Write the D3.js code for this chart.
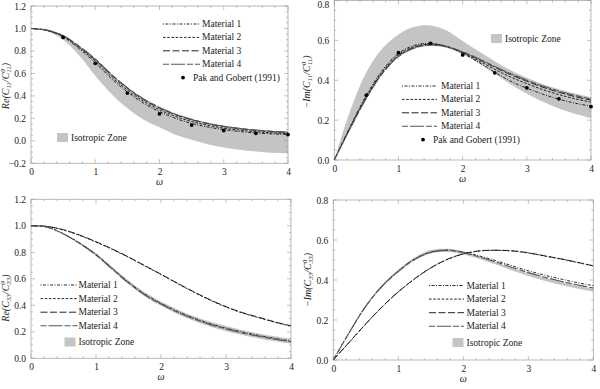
<!DOCTYPE html>
<html><head><meta charset="utf-8">
<script src="https://cdn.jsdelivr.net/npm/d3@7"></script>
<style>body{margin:0;background:#fff}svg{display:block}text{font-family:"Liberation Serif","DejaVu Serif",serif;fill:#222}</style>
</head><body><svg id="c" width="600" height="389"></svg>
<script>
// ---- data ----
const omega = [0,0.25,0.5,0.75,1,1.25,1.5,1.75,2,2.25,2.5,2.75,3,3.25,3.5,3.75,4];
const pakOmega = [0.5,1,1.5,2,2.5,3,3.5,4];
const xTicks = [0,1,2,3,4];
const materialNames = ["Material 1","Material 2","Material 3","Material 4"];

// Panel 1: Re(C11/C11^0)
const p1_m1 = [1,0.982,0.925,0.82,0.695,0.555,0.435,0.335,0.26,0.2,0.155,0.123,0.1,0.083,0.07,0.062,0.056];
const p1_m2 = [1,0.983,0.93,0.83,0.71,0.572,0.452,0.352,0.277,0.217,0.172,0.138,0.113,0.095,0.081,0.071,0.064];
const p1_m3 = [1,0.985,0.935,0.838,0.722,0.587,0.467,0.367,0.292,0.232,0.187,0.152,0.127,0.108,0.093,0.082,0.074];
const p1_m4 = [1,0.985,0.937,0.842,0.728,0.593,0.473,0.373,0.297,0.237,0.191,0.156,0.13,0.111,0.096,0.085,0.077];
const p1_zoneHi = [1,0.986,0.938,0.845,0.732,0.598,0.478,0.378,0.302,0.242,0.196,0.16,0.134,0.115,0.1,0.089,0.08];
const p1_zoneLo = [1,0.975,0.9,0.76,0.58,0.42,0.29,0.19,0.12,0.055,0.01,-0.03,-0.06,-0.08,-0.095,-0.105,-0.11];
const p1_pak = [0.92,0.69,0.425,0.24,0.14,0.092,0.067,0.056];
const p1_yTicks = [-0.2,0,0.2,0.4,0.6,0.8,1.0,1.2];

// Panel 2: -Im(C11/C11^0)
const p2_m1 = [0,0.17,0.325,0.45,0.535,0.575,0.585,0.57,0.535,0.49,0.44,0.395,0.36,0.33,0.305,0.285,0.27];
const p2_m2 = [0,0.165,0.318,0.443,0.528,0.569,0.581,0.569,0.538,0.498,0.455,0.416,0.383,0.353,0.328,0.307,0.29];
const p2_m3 = [0,0.162,0.313,0.437,0.522,0.565,0.579,0.569,0.541,0.505,0.465,0.428,0.395,0.365,0.34,0.318,0.3];
const p2_m4 = [0,0.16,0.31,0.434,0.519,0.562,0.577,0.568,0.542,0.508,0.469,0.433,0.4,0.371,0.346,0.324,0.305];
const p2_zoneHi = [0,0.25,0.44,0.56,0.63,0.668,0.675,0.65,0.597,0.545,0.495,0.45,0.412,0.38,0.355,0.334,0.316];
const p2_zoneLo = [0,0.155,0.305,0.43,0.515,0.558,0.572,0.562,0.53,0.485,0.432,0.38,0.332,0.292,0.258,0.232,0.21];
const p2_pak = [0.325,0.538,0.585,0.527,0.437,0.362,0.307,0.268];
const p2_yTicks = [0,0.2,0.4,0.6,0.8];

// Panel 3: Re(C33/C33^0)
const p3_m1 = [1,0.99,0.94,0.87,0.785,0.68,0.575,0.485,0.415,0.355,0.305,0.262,0.228,0.198,0.173,0.15,0.13];
const p3_m2 = [1,0.995,0.968,0.927,0.877,0.822,0.762,0.697,0.632,0.565,0.5,0.44,0.387,0.342,0.307,0.272,0.242];
const p3_m3 = [1,0.995,0.97,0.93,0.88,0.825,0.765,0.70,0.635,0.568,0.503,0.443,0.39,0.345,0.31,0.275,0.245];
const p3_m4 = [1,0.99,0.938,0.866,0.78,0.674,0.569,0.479,0.409,0.349,0.299,0.256,0.222,0.192,0.167,0.145,0.125];
const p3_zoneHi = [1,0.99,0.942,0.875,0.792,0.69,0.587,0.498,0.428,0.369,0.319,0.277,0.243,0.213,0.188,0.166,0.147];
const p3_zoneLo = [1,0.988,0.935,0.862,0.772,0.664,0.558,0.467,0.396,0.335,0.284,0.24,0.205,0.175,0.15,0.128,0.11];
const p3_yTicks = [0,0.2,0.4,0.6,0.8,1.0,1.2];

// Panel 4: -Im(C33/C33^0)
const p4_m1 = [0,0.14,0.27,0.37,0.445,0.505,0.54,0.55,0.54,0.52,0.497,0.471,0.446,0.424,0.405,0.387,0.372];
const p4_m2 = [0,0.09,0.18,0.265,0.34,0.405,0.46,0.502,0.53,0.545,0.548,0.545,0.535,0.52,0.505,0.488,0.47];
const p4_m3 = [0,0.091,0.181,0.266,0.341,0.406,0.461,0.503,0.531,0.546,0.549,0.546,0.536,0.521,0.506,0.489,0.471];
const p4_m4 = [0,0.14,0.268,0.368,0.443,0.503,0.538,0.548,0.537,0.515,0.49,0.463,0.437,0.414,0.394,0.376,0.36];
const p4_zoneHi = [0,0.143,0.275,0.377,0.453,0.513,0.55,0.556,0.542,0.516,0.488,0.46,0.434,0.411,0.391,0.373,0.358];
const p4_zoneLo = [0,0.138,0.265,0.363,0.437,0.497,0.532,0.54,0.528,0.505,0.477,0.448,0.42,0.396,0.375,0.357,0.342];
const p4_yTicks = [0,0.2,0.4,0.6,0.8];

// ---- styles ----
const matStyle = [
  {stroke:"#111", dash:"1,1.5,3,1.5", w:0.9},
  {stroke:"#111", dash:"2.6,1.6", w:0.9},
  {stroke:"#222", dash:"7,2.5", w:1.0},
  {stroke:"#555", dash:"6,2,14,2", w:1.1}
];
const zoneFill = "#c4c4c4";

const svg = d3.select("#c");

function yLabel(g, x, y, sub, neg) {
  const t = g.append("text").attr("transform",`translate(${x},${y}) rotate(-90)`)
    .attr("text-anchor","middle").attr("font-size",10).attr("font-style","italic");
  t.append("tspan").text((neg?"\u2212":"") + (neg?"Im":"Re") + "(C");
  t.append("tspan").attr("font-size",7).attr("dy",2).text(sub);
  t.append("tspan").attr("dy",-2).text("/C");
  t.append("tspan").attr("font-size",7).attr("dy",-4).text("0");
  t.append("tspan").attr("font-size",7).attr("dx",-3.5).attr("dy",6).text(sub);
  t.append("tspan").attr("dy",-2).text(")");
}

function panel(cfg) {
  const x = d3.scaleLinear().domain([0,4]).range([cfg.x0,cfg.x1]);
  const y = d3.scaleLinear().domain(cfg.yDom).range([cfg.yB,cfg.yT]);
  const g = svg.append("g");
  // zone
  const area = d3.area().x((d,i)=>x(omega[i])).y0((d,i)=>y(cfg.zoneLo[i])).y1((d,i)=>y(cfg.zoneHi[i])).curve(d3.curveCatmullRom);
  g.append("path").datum(omega).attr("d",area).attr("fill",zoneFill);
  // frame
  g.append("rect").attr("x",cfg.x0).attr("y",cfg.yT).attr("width",cfg.x1-cfg.x0).attr("height",cfg.yB-cfg.yT)
    .attr("fill","none").attr("stroke","#a8a8a8").attr("stroke-width",0.8);
  // ticks
  const tk = g.append("g").attr("stroke","#999").attr("stroke-width",0.6);
  d3.range(0,4.0001,0.2).forEach(v=>{
    const major = Math.abs(v-Math.round(v))<1e-6;
    const L = major?4:2;
    tk.append("line").attr("x1",x(v)).attr("x2",x(v)).attr("y1",cfg.yB).attr("y2",cfg.yB-L);
    tk.append("line").attr("x1",x(v)).attr("x2",x(v)).attr("y1",cfg.yT).attr("y2",cfg.yT+L);
  });
  d3.range(cfg.yDom[0],cfg.yDom[1]+1e-6,0.05).forEach(v=>{
    const major = Math.abs(v/0.2-Math.round(v/0.2))<1e-6;
    const L = major?4:2;
    tk.append("line").attr("x1",cfg.x0).attr("x2",cfg.x0+L).attr("y1",y(v)).attr("y2",y(v));
    tk.append("line").attr("x1",cfg.x1).attr("x2",cfg.x1-L).attr("y1",y(v)).attr("y2",y(v));
  });
  // tick labels via axes
  const ax = g.append("g").attr("transform",`translate(0,${cfg.yB})`)
    .call(d3.axisBottom(x).tickValues(xTicks).tickFormat(d3.format("d")).tickSize(0).tickPadding(5));
  const ay = g.append("g").attr("transform",`translate(${cfg.x0},0)`)
    .call(d3.axisLeft(y).tickValues(cfg.yTicks).tickFormat(d=>d<0?"\u2212"+Math.abs(d).toFixed(1):d.toFixed(1)).tickSize(0).tickPadding(5));
  [ax,ay].forEach(a=>{a.select(".domain").remove();a.selectAll("text").attr("font-size",9.5).attr("fill","#222");});
  // keep the top tick label inside the picture
  ay.selectAll(".tick").each(function(d){
    const yy = y(d);
    if (yy < 5) d3.select(this).attr("transform",`translate(0,5)`);
  });
  // curves
  const line = d3.line().x((d,i)=>x(omega[i])).y(d=>y(d)).curve(d3.curveCatmullRom);
  cfg.mats.forEach((m,k)=>{
    g.append("path").datum(m).attr("d",line).attr("fill","none")
      .attr("stroke",matStyle[k].stroke).attr("stroke-width",matStyle[k].w).attr("stroke-dasharray",matStyle[k].dash);
  });
  if (cfg.pak) {
    g.selectAll("circle.p").data(cfg.pak).enter().append("circle")
      .attr("cx",(d,i)=>x(pakOmega[i])).attr("cy",d=>y(d)).attr("r",1.9).attr("fill","#000");
  }
  // axis titles
  g.append("text").attr("x",(cfg.x0+cfg.x1)/2).attr("y",cfg.yB+22).attr("text-anchor","middle")
    .attr("font-size",10).attr("font-style","italic").text("\u03c9");
  yLabel(g, cfg.ylx, cfg.ylc, cfg.sub, cfg.neg);
  // legend
  const L = cfg.leg;
  materialNames.forEach((nm,k)=>{
    const yy = L.y + k*L.dy;
    g.append("line").attr("x1",L.lx0).attr("x2",L.lx1).attr("y1",yy).attr("y2",yy)
      .attr("stroke",matStyle[k].stroke).attr("stroke-width",matStyle[k].w).attr("stroke-dasharray",matStyle[k].dash);
    g.append("text").attr("x",L.tx).attr("y",yy+3).attr("font-size",9.5).text(nm);
  });
  if (cfg.pak) {
    const yy = L.y + 4*L.dy;
    g.append("circle").attr("cx",L.px).attr("cy",yy).attr("r",1.9).attr("fill","#000");
    g.append("text").attr("x",L.ptx).attr("y",yy+3).attr("font-size",9.5).text("Pak and Gobert (1991)");
  }
  const Z = cfg.zl;
  g.append("rect").attr("x",Z.x).attr("y",Z.y-4.5).attr("width",11).attr("height",9).attr("fill",zoneFill);
  g.append("text").attr("x",Z.x+14).attr("y",Z.y+3).attr("font-size",9.5).text("Isotropic Zone");
}

panel({x0:31,x1:288,yT:6,yB:163.3,yDom:[-0.2,1.2],yTicks:p1_yTicks,
  mats:[p1_m1,p1_m2,p1_m3,p1_m4],zoneHi:p1_zoneHi,zoneLo:p1_zoneLo,pak:p1_pak,
  ylx:9,ylc:86,sub:"11",neg:false,
  leg:{y:24,dy:13.4,lx0:163,lx1:200,tx:202,px:183,ptx:193},zl:{x:57,y:137.5}});
panel({x0:334.3,x1:591,yT:0.5,yB:160,yDom:[0,0.8],yTicks:p2_yTicks,
  mats:[p2_m1,p2_m2,p2_m3,p2_m4],zoneHi:p2_zoneHi,zoneLo:p2_zoneLo,pak:p2_pak,
  ylx:310,ylc:82,sub:"11",neg:true,
  leg:{y:86,dy:13.4,lx0:402,lx1:437,tx:441,px:423,ptx:433},zl:{x:491,y:38.5}});
panel({x0:31,x1:291,yT:199.3,yB:358.3,yDom:[0,1.2],yTicks:p3_yTicks,
  mats:[p3_m1,p3_m2,p3_m3,p3_m4],zoneHi:p3_zoneHi,zoneLo:p3_zoneLo,pak:null,
  ylx:9,ylc:298,sub:"33",neg:false,
  leg:{y:285,dy:13.6,lx0:40.5,lx1:77.5,tx:78.5},zl:{x:64.5,y:342}});
panel({x0:333.3,x1:593.3,yT:200,yB:360,yDom:[0,0.8],yTicks:p4_yTicks,
  mats:[p4_m1,p4_m2,p4_m3,p4_m4],zoneHi:p4_zoneHi,zoneLo:p4_zoneLo,pak:null,
  ylx:311,ylc:280,sub:"33",neg:true,
  leg:{y:285.5,dy:13.6,lx0:429,lx1:464,tx:466.5},zl:{x:452.5,y:342.5}});
</script></body></html>
